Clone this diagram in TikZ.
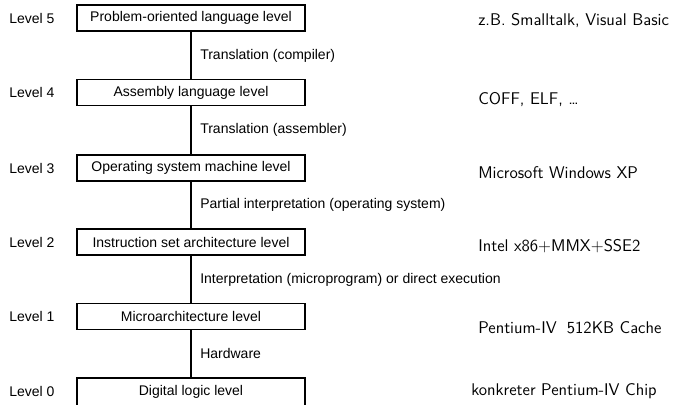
\documentclass[tikz,border=0pt]{standalone}
\usepackage{fontspec}
\setmainfont{Liberation Sans}
\newfontfamily\lmsans{Latin Modern Sans}
\begin{document}
\begin{tikzpicture}[x=0.75pt,y=-0.75pt,
  lvlbox/.style={draw, line width=1.1pt, minimum width=171pt, minimum height=19.5pt, inner sep=0pt, font=\fontsize{10.5}{12}\selectfont},
  lvllab/.style={anchor=west, inner sep=0pt, font=\fontsize{10.5}{12}\selectfont},
  edgelab/.style={anchor=west, inner sep=0pt, font=\fontsize{10.5}{12}\selectfont},
  example/.style={anchor=west, inner sep=0pt, font=\lmsans\fontsize{12.7}{15}\selectfont},
  conn/.style={line width=1.1pt}]
\useasboundingbox (0,0) rectangle (684,404);
% boxes
\node[lvlbox] (b5) at (191,18) {Problem-oriented language level};
\node[lvlbox] (b4) at (191,92.5) {Assembly language level};
\node[lvlbox] (b3) at (191,168) {Operating system machine level};
\node[lvlbox] (b2) at (191,242) {Instruction set architecture level};
\node[lvlbox] (b1) at (191,316.5) {Microarchitecture level};
\node[lvlbox, minimum height=21pt] (b0) at (191,392) {Digital logic level};
% level labels
\node[lvllab] (l5) at (9,18) {Level 5};
\node[lvllab] (l4) at (9,92.5) {Level 4};
\node[lvllab] (l3) at (9,168) {Level 3};
\node[lvllab] (l2) at (9,242) {Level 2};
\node[lvllab] (l1) at (9,316.5) {Level 1};
\node[lvllab] (l0) at (9,391) {Level 0};
% connectors
\draw[conn] (b5) -- (b4);
\draw[conn] (b4) -- (b3);
\draw[conn] (b3) -- (b2);
\draw[conn] (b2) -- (b1);
\draw[conn] (b1) -- (b0);
% connector labels
\node[edgelab] (e54) at (200,56) {Translation (compiler)};
\node[edgelab] (e43) at (200,130) {Translation (assembler)};
\node[edgelab] (e32) at (200,205) {Partial interpretation (operating system)};
\node[edgelab] (e21) at (200,280) {Interpretation (microprogram) or direct execution};
\node[edgelab] (e10) at (200,353) {Hardware};
% examples
\node[example] (x5) at (478,21) {z.B. Smalltalk, Visual Basic};
\node[example] (x4) at (478,100) {COFF, ELF, \dots};
\node[example] (x3) at (478,173) {Microsoft Windows XP};
\node[example] (x2) at (478,246) {Intel x86+MMX+SSE2};
\node[example] (x1) at (478,328) {Pentium-IV\hspace{0.6em}512KB Cache};
\node[example] (x0) at (471,391) {konkreter Pentium-IV Chip};
\end{tikzpicture}
\end{document}
